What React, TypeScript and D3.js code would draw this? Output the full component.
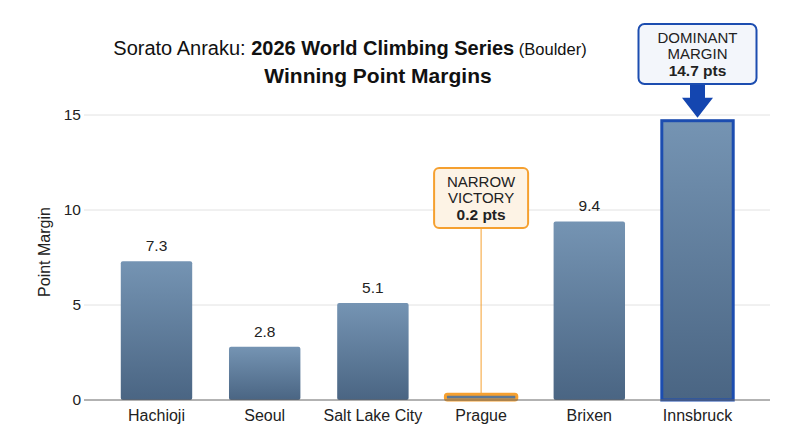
import { useEffect, useRef } from 'react';
import * as d3 from 'd3';

const categories = ['Hachioji', 'Seoul', 'Salt Lake City', 'Prague', 'Brixen', 'Innsbruck'];
const margins = [7.3, 2.8, 5.1, 0.2, 9.4, 14.7];
const yTicks = [0, 5, 10, 15];

const FONT = '"Liberation Sans", Arial, Helvetica, sans-serif';

export default function App() {
	const svgRef = useRef<SVGSVGElement>(null);

	useEffect(() => {
		if (!svgRef.current) return;
		const width = 800;
		const height = 447;

		d3.select(svgRef.current).selectAll('*').remove();
		const svg = d3.select(svgRef.current).attr('width', width).attr('height', height);

		const left = 84;
		const right = 770;
		const x = d3.scaleBand<string>().domain(categories).range([left, right]).padding(0.34);
		const y = d3.scaleLinear().domain([0, 15]).range([400, 115]);

		// gradient for bars
		const defs = svg.append('defs');
		const grad = defs
			.append('linearGradient')
			.attr('id', 'barGrad')
			.attr('x1', 0)
			.attr('y1', 0)
			.attr('x2', 0)
			.attr('y2', 1);
		grad.append('stop').attr('offset', '0%').attr('stop-color', '#7594b3');
		grad.append('stop').attr('offset', '100%').attr('stop-color', '#4a6583');

		// gridlines
		svg
			.append('g')
			.selectAll('line')
			.data(yTicks.filter((t) => t > 0))
			.enter()
			.append('line')
			.attr('x1', left)
			.attr('x2', right)
			.attr('y1', (d) => y(d))
			.attr('y2', (d) => y(d))
			.attr('stroke', '#e2e2e2')
			.attr('stroke-width', 1);

		// y tick labels
		svg
			.append('g')
			.selectAll('text')
			.data(yTicks)
			.enter()
			.append('text')
			.attr('x', left - 3)
			.attr('y', (d) => y(d))
			.attr('dy', '0.35em')
			.attr('text-anchor', 'end')
			.attr('font-family', FONT)
			.attr('font-size', 15.5)
			.attr('fill', '#222')
			.text((d) => d);

		// y axis title
		svg
			.append('text')
			.attr('transform', `translate(50,252) rotate(-90)`)
			.attr('text-anchor', 'middle')
			.attr('font-family', FONT)
			.attr('font-size', 16)
			.attr('fill', '#222')
			.text('Point Margin');

		// bars
		const bars = svg.append('g');
		categories.forEach((c, i) => {
			const v = margins[i];
			const bx = x(c)!;
			const bw = x.bandwidth();
			const isMax = c === 'Innsbruck';
			const isMin = c === 'Prague';
			if (isMin) {
				bars
					.append('rect')
					.attr('x', bx)
					.attr('y', y(v) - 2)
					.attr('width', bw)
					.attr('height', y(0) - y(v) + 2)
					.attr('rx', 2)
					.attr('fill', '#5d7895')
					.attr('stroke', '#f5a030')
					.attr('stroke-width', 3);
				return;
			}
			bars
				.append('rect')
				.attr('x', bx)
				.attr('y', y(v))
				.attr('width', bw)
				.attr('height', y(0) - y(v))
				.attr('rx', isMax ? 0 : 2)
				.attr('fill', 'url(#barGrad)');
			if (isMax) {
				bars
					.append('rect')
					.attr('x', bx)
					.attr('y', y(v))
					.attr('width', bw)
					.attr('height', y(0) - y(v))
					.attr('fill', 'none')
					.attr('stroke', '#1c4db0')
					.attr('stroke-width', 3);
			} else {
				bars
					.append('text')
					.attr('x', bx + bw / 2)
					.attr('y', y(v) - 10)
					.attr('text-anchor', 'middle')
					.attr('font-family', FONT)
					.attr('font-size', 15.5)
					.attr('fill', '#222')
					.text(v.toFixed(1));
			}
		});

		// baseline axis
		svg
			.append('line')
			.attr('x1', left)
			.attr('x2', right)
			.attr('y1', y(0))
			.attr('y2', y(0))
			.attr('stroke', '#666')
			.attr('stroke-width', 1);

		// x labels
		svg
			.append('g')
			.selectAll('text')
			.data(categories)
			.enter()
			.append('text')
			.attr('x', (d) => x(d)! + x.bandwidth() / 2)
			.attr('y', y(0) + 21)
			.attr('text-anchor', 'middle')
			.attr('font-family', FONT)
			.attr('font-size', 16)
			.attr('fill', '#222')
			.text((d) => d);

		// narrow victory annotation
		const pIdx = categories.indexOf('Prague');
		const px = x('Prague')! + x.bandwidth() / 2;
		const nBox = { w: 94, h: 60, top: 168 };
		svg
			.append('line')
			.attr('x1', px)
			.attr('x2', px)
			.attr('y1', nBox.top + nBox.h)
			.attr('y2', y(margins[pIdx]) - 3)
			.attr('stroke', '#f5a030')
			.attr('stroke-width', 1);
		svg
			.append('rect')
			.attr('x', px - nBox.w / 2)
			.attr('y', nBox.top)
			.attr('width', nBox.w)
			.attr('height', nBox.h)
			.attr('rx', 5)
			.attr('fill', '#fdf3e5')
			.attr('stroke', '#f5a030')
			.attr('stroke-width', 2);
		const nText = svg
			.append('text')
			.attr('text-anchor', 'middle')
			.attr('font-family', FONT)
			.attr('font-size', 15)
			.attr('fill', '#222');
		nText.append('tspan').attr('x', px).attr('y', nBox.top + 19).text('NARROW');
		nText.append('tspan').attr('x', px).attr('y', nBox.top + 35).text('VICTORY');
		nText
			.append('tspan')
			.attr('x', px)
			.attr('y', nBox.top + 52)
			.attr('font-weight', 'bold')
			.attr('font-size', 15.5)
			.text(`${margins[pIdx].toFixed(1)} pts`);

		// dominant margin annotation
		const iIdx = categories.indexOf('Innsbruck');
		const ix = x('Innsbruck')! + x.bandwidth() / 2;
		const dBox = { w: 118, h: 60, top: 24 };
		const tipY = y(margins[iIdx]) - 3;
		svg
			.append('path')
			.attr(
				'd',
				`M${ix - 7.5},${dBox.top + dBox.h} L${ix + 7.5},${dBox.top + dBox.h} L${ix + 7.5},${tipY - 20} L${ix + 15.5},${tipY - 20} L${ix},${tipY} L${ix - 15.5},${tipY - 20} L${ix - 7.5},${tipY - 20} Z`
			)
			.attr('fill', '#1446b0');
		svg
			.append('rect')
			.attr('x', ix - dBox.w / 2)
			.attr('y', dBox.top)
			.attr('width', dBox.w)
			.attr('height', dBox.h)
			.attr('rx', 6)
			.attr('fill', '#f3f6fb')
			.attr('stroke', '#1c4db0')
			.attr('stroke-width', 2);
		const dText = svg
			.append('text')
			.attr('text-anchor', 'middle')
			.attr('font-family', FONT)
			.attr('font-size', 15)
			.attr('fill', '#222');
		dText.append('tspan').attr('x', ix).attr('y', dBox.top + 19).text('DOMINANT');
		dText.append('tspan').attr('x', ix).attr('y', dBox.top + 35).text('MARGIN');
		dText
			.append('tspan')
			.attr('x', ix)
			.attr('y', dBox.top + 52)
			.attr('font-weight', 'bold')
			.attr('font-size', 15.5)
			.text(`${margins[iIdx].toFixed(1)} pts`);

		// title
		const t1 = svg
			.append('text')
			.attr('x', 350)
			.attr('y', 55)
			.attr('text-anchor', 'middle')
			.attr('font-family', FONT)
			.attr('font-size', 20)
			.attr('fill', '#111');
		t1.append('tspan').text('Sorato Anraku: ');
		t1.append('tspan').attr('font-weight', 'bold').text('2026 World Climbing Series');
		t1.append('tspan').attr('font-size', 16.5).text(' (Boulder)');
		svg
			.append('text')
			.attr('x', 378)
			.attr('y', 83)
			.attr('text-anchor', 'middle')
			.attr('font-family', FONT)
			.attr('font-size', 21)
			.attr('font-weight', 'bold')
			.attr('fill', '#111')
			.text('Winning Point Margins');
	}, []);

	return (
		<div style={{ width: 800, height: 447, margin: -8, background: '#fff' }}>
			<svg ref={svgRef} style={{ display: 'block' }}></svg>
		</div>
	);
}
